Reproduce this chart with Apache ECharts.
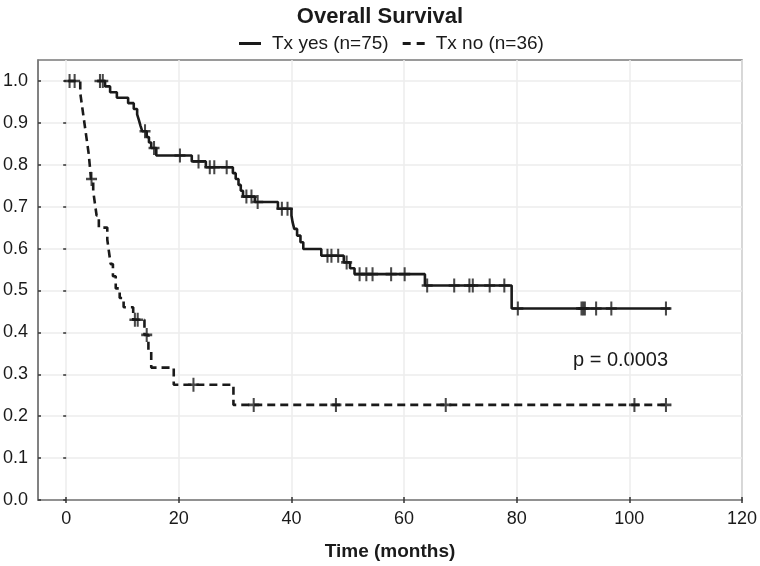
<!DOCTYPE html>
<html><head><meta charset="utf-8">
<script src="https://cdn.jsdelivr.net/npm/echarts@6/dist/echarts.min.js"></script>
<style>html,body{margin:0;padding:0;background:#fff}#c{width:760px;height:566px}</style>
</head><body><div id="c"></div>
<script>
// ---- data ----
const xTicks = [0, 20, 40, 60, 80, 100, 120];
const yTicks = [0, 0.1, 0.2, 0.3, 0.4, 0.5, 0.6, 0.7, 0.8, 0.9, 1.0];

const yesName = 'Tx yes (n=75)';
const yesTimes = [5.5, 6.9, 7.8, 9.0, 11.0, 12.0, 12.6, 12.9, 13.2, 13.5, 14.3, 14.7, 15.1, 16.0, 22.3, 24.8, 29.6, 30.1, 30.6, 31.0, 31.4, 33.5, 37.6, 40.0, 40.2, 40.5, 41.0, 41.6, 42.1, 45.3, 49.3, 50.4, 51.2, 63.7, 79.1, 107.3];
const yesSurv  = [1.0, 0.987, 0.973, 0.96, 0.947, 0.933, 0.92, 0.907, 0.893, 0.88, 0.866, 0.853, 0.84, 0.822, 0.808, 0.794, 0.78, 0.766, 0.752, 0.738, 0.724, 0.711, 0.695, 0.679, 0.663, 0.647, 0.631, 0.615, 0.599, 0.583, 0.567, 0.553, 0.539, 0.512, 0.457, 0.457];
const yesCensor = [6.0, 6.5, 14.0, 15.6, 20.2, 23.5, 25.5, 26.3, 28.5, 32.0, 32.9, 34.0, 38.3, 39.3, 46.4, 47.1, 48.3, 49.8, 52.1, 53.3, 54.4, 57.7, 60.1, 64.1, 68.9, 71.6, 72.2, 75.2, 77.8, 80.2, 91.5, 91.8, 92.1, 94.1, 96.8, 106.5];

const noName = 'Tx no (n=36)';
const noTimes = [0.3, 2.5, 2.8, 3.1, 3.4, 3.7, 4.0, 4.2, 4.4, 4.8, 5.1, 5.4, 5.8, 7.3, 7.6, 7.9, 8.3, 8.8, 9.5, 10.2, 11.9, 13.9, 14.6, 15.1, 19.1, 29.7, 107.3];
const noSurv  = [1.0, 0.971, 0.942, 0.913, 0.884, 0.855, 0.826, 0.797, 0.766, 0.737, 0.708, 0.679, 0.65, 0.621, 0.592, 0.563, 0.534, 0.505, 0.482, 0.46, 0.43, 0.394, 0.355, 0.316, 0.275, 0.227, 0.227];
const noCensor = [0.6, 1.5, 4.5, 12.2, 12.7, 14.3, 22.6, 33.3, 47.9, 67.4, 100.9, 106.5];

const pText = 'p = 0.0003';
const titleText = 'Overall Survival';
const xName = 'Time (months)';

// ---- helpers ----
function pairs(t, s) { return t.map((v, i) => [v, s[i]]); }
function survAt(times, surv, t) {
  let s = surv[0];
  for (let i = 0; i < times.length; i++) { if (times[i] <= t) s = surv[i]; }
  return s;
}
const FONT = '"Liberation Sans", Arial, Helvetica, sans-serif';
const INK = '#1a1a1a';
const BOX = '#7a7a7a';
const GRID = '#ededed';
const cross = 'path://M5,0L5,14M0,7L10,7';
const solidIcon = 'path://M0,0H22V3H0Z';
const dashIcon = 'path://M0,0H8V3H0Z M14,0H22V3H14Z';

const chart = echarts.init(document.getElementById('c'), null, { renderer: 'canvas' });
const option = {
  backgroundColor: '#fff',
  animation: false,
  textStyle: { fontFamily: FONT },
  title: {
    text: titleText, left: 'center', top: 1,
    textStyle: { fontFamily: FONT, fontSize: 22, fontWeight: 'bold', color: INK }
  },
  legend: {
    data: [{ name: yesName, icon: solidIcon }, { name: noName, icon: dashIcon }],
    left: 234, top: 29, itemWidth: 22, itemHeight: 3, itemGap: 14,
    itemStyle: { color: INK, borderWidth: 0 },
    lineStyle: { width: 0 },
    textStyle: { fontFamily: FONT, fontSize: 19, color: INK, padding: [0, 0, 0, 6] }
  },
  grid: { left: 37, right: 17, top: 60, bottom: 65, show: true, borderColor: BOX, borderWidth: 1.5, backgroundColor: '#fff' },
  xAxis: [{
    type: 'value', min: -5, max: 120,
    name: xName, nameLocation: 'middle', nameGap: 42,
    nameTextStyle: { fontFamily: FONT, fontSize: 19, fontWeight: 'bold', color: INK },
    axisLine: { show: true, onZero: false, lineStyle: { color: BOX, width: 1.5 } },
    axisTick: { show: true, inside: true, length: 3, customValues: xTicks, lineStyle: { color: '#333', width: 1.5 } },
    axisLabel: { customValues: xTicks, fontFamily: FONT, fontSize: 18, color: INK, margin: 10 },
    splitLine: { show: true, lineStyle: { color: GRID, width: 1.5 } }
  }, {
    type: 'value', min: -5, max: 120, position: 'top',
    axisLine: { show: false },
    axisTick: { show: true, inside: true, length: 3, customValues: xTicks, lineStyle: { color: '#333', width: 1.5 } },
    axisLabel: { show: false }, splitLine: { show: false }
  }],
  yAxis: [{
    type: 'value', min: 0, max: 1.05,
    axisLine: { show: true, onZero: false, lineStyle: { color: BOX, width: 1.5 } },
    axisTick: { show: true, inside: true, length: 3, customValues: yTicks, lineStyle: { color: '#333', width: 1.5 } },
    axisLabel: { customValues: yTicks, fontFamily: FONT, fontSize: 18, color: INK, margin: 10, formatter: v => v.toFixed(1) },
    splitLine: { show: true, lineStyle: { color: GRID, width: 1.5 } }
  }, {
    type: 'value', min: 0, max: 1.05, position: 'right',
    axisLine: { show: false },
    axisTick: { show: true, inside: true, length: 3, customValues: yTicks, lineStyle: { color: '#333', width: 1.5 } },
    axisLabel: { show: false }, splitLine: { show: false }
  }],
  series: [
    {
      name: yesName, type: 'line', step: 'end', data: pairs(yesTimes, yesSurv),
      symbol: 'none', showSymbol: false,
      lineStyle: { color: INK, width: 2.6, type: 'solid' }, itemStyle: { color: INK }, z: 3
    },
    {
      name: noName, type: 'line', step: 'end', data: pairs(noTimes, noSurv),
      symbol: 'none', showSymbol: false,
      lineStyle: { color: INK, width: 2.6, type: [8, 5] }, itemStyle: { color: INK }, z: 3
    },
    {
      type: 'scatter', data: yesCensor.map(t => [t, survAt(yesTimes, yesSurv, t)]),
      symbol: cross, symbolSize: [11, 14],
      itemStyle: { color: 'rgba(0,0,0,0)', borderColor: INK, borderWidth: 2.3 }, z: 4, silent: true
    },
    {
      type: 'scatter', data: noCensor.map(t => [t, survAt(noTimes, noSurv, t)]),
      symbol: cross, symbolSize: [11, 14],
      itemStyle: { color: 'rgba(0,0,0,0)', borderColor: INK, borderWidth: 2.3 }, z: 4, silent: true
    }
  ],
  graphic: [{
    type: 'text', left: 573, top: 350,
    style: { text: pText, fontFamily: FONT, fontSize: 20, fill: INK }
  }]
};
chart.setOption(option);
</script>
</body></html>
